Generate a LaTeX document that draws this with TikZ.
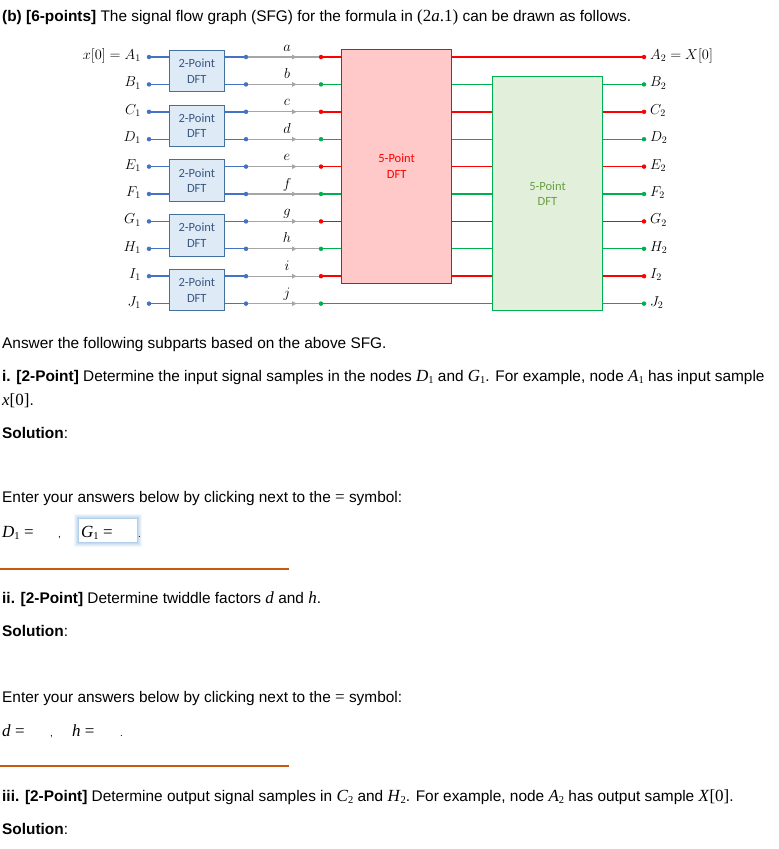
\documentclass[tikz,border=0pt]{standalone}
\usepackage[no-math]{fontspec}
\setmainfont{Liberation Sans}
\newfontfamily\tms{Liberation Serif}
\newfontfamily\carl{Carlito}
\usetikzlibrary{decorations.markings,arrows.meta}
\definecolor{dftblue}{HTML}{4472C4}
\definecolor{boxblue}{HTML}{DEEBF7}
\definecolor{boxedge}{HTML}{41719C}
\definecolor{boxtext}{HTML}{3A5783}
\definecolor{sfgred}{HTML}{FF0000}
\definecolor{redfill}{HTML}{FFC9C9}
\definecolor{sfggreen}{HTML}{00B050}
\definecolor{greenfill}{HTML}{E2EFDA}
\definecolor{greentext}{HTML}{6A9F45}
\definecolor{gline}{HTML}{A6A6A6}
\definecolor{rulecol}{HTML}{C55A11}
\definecolor{glowcol}{HTML}{9DC3E6}
\newcommand{\tv}[2]{{\tms\fontsize{17}{19}\selectfont\textit{#1}\raisebox{-0.35ex}{\fontsize{10.5}{11}\selectfont #2}}}
\newcommand{\tvx}[1]{{\tms\fontsize{17}{19}\selectfont\textit{#1}}}
\tikzset{
  dot/.style={circle, fill, inner sep=0pt, minimum size=4.5pt},
  twobox/.style={draw=boxedge, line width=1.1pt, fill=boxblue, minimum width=55pt, minimum height=41.4pt, inner sep=0pt, align=center, text=boxtext, font=\carl\fontsize{12.5}{15.5}\selectfont},
  bigbox/.style={line width=1.1pt, minimum width=110.3pt, minimum height=233.6pt, inner sep=0pt, align=center, font=\carl\fontsize{12.5}{15.3}\selectfont},
  lbl/.style={inner sep=0pt, font=\fontsize{13.8}{16}\selectfont},
  body/.style={inner sep=0pt, anchor=base west, font=\fontsize{15.4}{18}\selectfont},
  thickrow/.style={line width=1.7pt},
  thinrow/.style={line width=1.1pt},
  flowarrow/.style={postaction={decorate}, decoration={markings, mark=at position 0.687 with {\arrow{Triangle[length=4.5pt,width=4.5pt]}}}},
  rulerline/.style={draw=rulecol, line width=1.3pt}
}
\begin{document}
\begin{tikzpicture}[x=1pt,y=-1pt]
\useasboundingbox (0,0) rectangle (779,849);
\fill[white] (0,0) rectangle (779,849);

% big boxes
\node[bigbox, draw=sfgred, fill=redfill, text=sfgred] (r) at (396.6,166.3) {5-Point\\DFT};
\node[bigbox, draw=sfggreen, fill=greenfill, text=greentext] (g) at (547.5,193.4) {5-Point\\DFT};

% 2-point boxes
\foreach \j in {0,...,4}{
  \pgfmathsetmacro\yc{57+27.4*2*\j+13.7+0.3}
  \node[twobox] (p\j) at (196.8,\yc) {2-Point\\DFT};
}

\foreach \k/\n/\t/\c/\w in {0/A/a/sfgred/thickrow, 1/B/b/sfggreen/thinrow, 2/C/c/sfgred/thickrow, 3/D/d/sfggreen/thinrow, 4/E/e/sfgred/thickrow, 5/F/f/sfggreen/thinrow, 6/G/g/sfgred/thickrow, 7/H/h/sfggreen/thinrow, 8/I/i/sfgred/thickrow, 9/J/j/sfggreen/thinrow}{
  \pgfmathsetmacro\yy{57+27.4*\k}
  \pgfmathtruncatemacro\j{\k/2}
  \node[dot, dftblue] (in\k) at (149,\yy) {};
  \node[dot, dftblue] (m\k) at (246,\yy) {};
  \node[dot, \c] (c\k) at (321,\yy) {};
  \node[dot, \c] (o\k) at (644,\yy) {};
  \draw[dftblue, \w] (in\k) -- (in\k -| p\j.west);
  \draw[dftblue, \w] (m\k -| p\j.east) -- (m\k);
  \draw[gline, line width=1.3pt, flowarrow] (m\k) -- (c\k);
  \node[lbl, anchor=base] (tw\k) at (287,\yy-6) {$\t$};
  \ifnum\k=0
    \draw[\c, \w] (c\k) -- (c\k -| r.west);
    \draw[\c, \w] (c\k -| r.east) -- (o\k);
    \node[lbl, anchor=base east] (lin\k) at (141,\yy+2.5) {$x[0] = A_1$};
    \node[lbl, anchor=base west] (lout\k) at (650,\yy+2.5) {$A_2 = X[0]$};
  \else
    \ifnum\k=9
      \draw[\c, \w] (c\k) -- (c\k -| g.west);
    \else
      \draw[\c, \w] (c\k) -- (c\k -| r.west);
      \draw[\c, \w] (c\k -| r.east) -- (c\k -| g.west);
    \fi
    \draw[\c, \w] (o\k -| g.east) -- (o\k);
    \node[lbl, anchor=base east] (lin\k) at (141,\yy+2.5) {$\n_1$};
    \node[lbl, anchor=base west] (lout\k) at (650,\yy+2.5) {$\n_2$};
  \fi
}

% text
\node[body] (title) at (2,21) {\textbf{(b) [6-points]} The signal flow graph (SFG) for the formula in {\tms\fontsize{17}{19}\selectfont (2\textit{a}.1)} can be drawn as follows.};
\node[body] (ans) at (2,348) {Answer the following subparts based on the above SFG.};
\node[body] (q1) at (2,381) {\textbf{i. [2-Point]} Determine the input signal samples in the nodes \tv{D}{1} and \tv{G}{1}. For example, node \tv{A}{1} has input sample};
\node[body] (q1b) at (2,405) {{\tms\fontsize{17}{19}\selectfont\textit{x}[0]}.};
\node[body] (s1) at (2,438) {\textbf{Solution}:};
\node[body] (e1) at (2,502) {Enter your answers below by clicking next to the {\tms\fontsize{17}{19}\selectfont =} symbol:};
\node[body] (d1) at (2,537) {\tv{D}{1} {\tms\fontsize{17}{19}\selectfont =}};
\node[body] (c1) at (58,537) {\fontsize{10}{12}\selectfont ,};
\foreach \g/\o in {5/0.12,4/0.15,3/0.2,2/0.3,1/0.45}{
  \fill[glowcol, opacity=\o] (79-\g,519-\g) rectangle (137+\g,542+\g);
}
\node[fill=white, inner sep=0pt, minimum width=58pt, minimum height=23pt] (gbox) at (108,530.5) {};
\node[body] (g1) at (81,537) {\tv{G}{1} {\tms\fontsize{17}{19}\selectfont =}};
\node[body] (p1dot) at (138,537) {\fontsize{10}{12}\selectfont .};
\coordinate (r1a) at (0,569);
\coordinate (r1b) at (289,569);
\draw[rulerline] (r1a) -- (r1b);
\node[body] (q2) at (2,603) {\textbf{ii. [2-Point]} Determine twiddle factors \tvx{d} and \tvx{h}.};
\node[body] (s2) at (2,636) {\textbf{Solution}:};
\node[body] (e2) at (2,702) {Enter your answers below by clicking next to the {\tms\fontsize{17}{19}\selectfont =} symbol:};
\node[body] (d2) at (2,736) {\tvx{d} {\tms\fontsize{17}{19}\selectfont =}};
\node[body] (c2) at (50,736) {\fontsize{10}{12}\selectfont ,};
\node[body] (h2) at (72,736) {\tvx{h} {\tms\fontsize{17}{19}\selectfont =}};
\node[body] (p2dot) at (120,736) {\fontsize{10}{12}\selectfont .};
\coordinate (r2a) at (0,766);
\coordinate (r2b) at (289,766);
\draw[rulerline] (r2a) -- (r2b);
\node[body] (q3) at (2,801) {\textbf{iii. [2-Point]} Determine output signal samples in \tv{C}{2} and \tv{H}{2}. For example, node \tv{A}{2} has output sample {\tms\fontsize{17}{19}\selectfont\textit{X}[0]}.};
\node[body] (s3) at (2,834) {\textbf{Solution}:};
\end{tikzpicture}
\end{document}
